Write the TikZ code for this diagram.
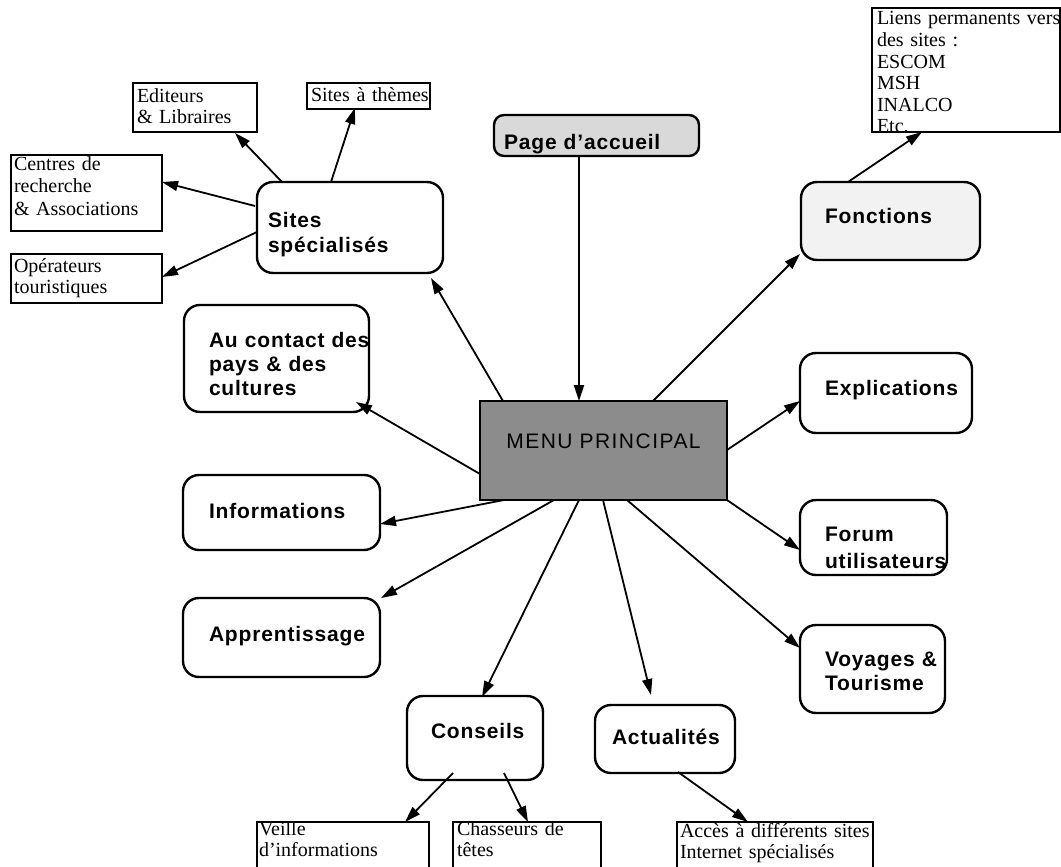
\documentclass[tikz,border=0pt]{standalone}
\usepackage{fontspec}
\setmainfont{Liberation Serif}
\newfontfamily\boxfont{Liberation Sans}[LetterSpace=4]
\newfontfamily\menufont{Liberation Sans}[LetterSpace=7]
\usetikzlibrary{calc,arrows.meta}
\hyphenpenalty=10000
\exhyphenpenalty=10000

\begin{document}
\begin{tikzpicture}[x=0.5pt,y=-0.5pt]
\tikzstyle{rbox}=[draw,line width=1.2pt,rounded corners=8pt,anchor=north west,inner ysep=0pt,outer sep=0pt,align=left,font=\boxfont\bfseries\fontsize{10.5pt}{12pt}\selectfont]
\tikzstyle{sbox}=[draw,line width=1pt,anchor=north west,inner ysep=0pt,outer sep=0pt,align=left,font=\fontsize{10pt}{10.8pt}\selectfont]
\tikzstyle{arr}=[line width=0.9pt,-{Triangle[length=8pt,width=5pt]}]

	\useasboundingbox (0,0) rectangle (1061,867);

	% menu et page d'accueil
	\node (menu) [draw,line width=0.8pt,fill=black!45,anchor=north west,inner sep=0pt,outer sep=0pt,align=center,text width=123.5pt,text height=23.5pt,text depth=26pt,font=\menufont\fontsize{10.5pt}{12pt}\selectfont] at (480,401) {MENU PRINCIPAL};
	\node (acc) [rbox,rounded corners=5pt,fill=black!15,inner xsep=5pt,text width=92.5pt,text height=17pt,text depth=3.5pt] at (494,115) {Page d’accueil};

	% rubriques
	\node (sites) [rbox,inner xsep=5.5pt,text width=82pt,text height=22.5pt,text depth=23pt] at (257,182) {Sites\\[0.5pt]spécialisés};
	\node (fonctions) [rbox,fill=black!5,inner xsep=12pt,text width=65.5pt,text height=20.5pt,text depth=18.5pt] at (801,182) {Fonctions};
	\node (contact) [rbox,inner xsep=12.5pt,text width=67.5pt,text height=21pt,text depth=32.5pt] at (184,305) {\mbox{Au contact des}\\\mbox{pays \& des}\\cultures};
	\node (expl) [rbox,inner xsep=12.5pt,text width=61pt,text height=21pt,text depth=19pt] at (800,353) {Explications};
	\node (info) [rbox,inner xsep=13pt,text width=72.5pt,text height=21.5pt,text depth=16pt] at (183,475) {Informations};
	\node (forum) [rbox,inner xsep=12.5pt,text width=48.5pt,text height=20.5pt,text depth=17pt] at (800,500) {Forum\\[1.5pt]utilisateurs};
	\node (appr) [rbox,inner xsep=13pt,text width=72.5pt,text height=21.5pt,text depth=18pt] at (183,598) {Apprentissage};
	\node (voyages) [rbox,inner xsep=12.5pt,text width=47.5pt,text height=20.5pt,text depth=23.5pt] at (800,625) {\mbox{Voyages \&}\\Tourisme};
	\node (conseils) [rbox,inner xsep=12pt,text width=44pt,text height=21pt,text depth=21pt] at (407,696) {Conseils};
	\node (actu) [rbox,inner xsep=8.5pt,text width=53pt,text height=19.5pt,text depth=14.5pt] at (595,705) {Actualités};

	% sous-rubriques
	\node (editeurs) [sbox,inner xsep=2pt,text width=58pt,text height=9.5pt,text depth=15pt] at (133,83) {Editeurs\\\& Libraires};
	\node (themes) [sbox,inner xsep=2pt,text width=57.5pt,text height=9pt,text depth=4pt] at (307,83) {\mbox{Sites à thèmes}};
	\node (centres) [sbox,inner xsep=1.5pt,text width=72.5pt,text height=7.5pt,text depth=30.5pt] at (11,155) {Centres de\\[0.5pt]recherche\\[0.5pt]\mbox{\& Associations}};
	\node (operateurs) [sbox,inner xsep=1.5pt,text width=72.5pt,text height=9pt,text depth=15.5pt] at (11,254) {Opérateurs\\touristiques};
	\begin{scope}
		\clip (860,0) rectangle (1061,133);
		\node (liens) [sbox,inner xsep=2.5pt,text width=89pt,text height=8.5pt,text depth=53.5pt] at (872,8) {\mbox{Liens permanents vers}\\des sites :\\ESCOM\\MSH\\INALCO\\Etc.};
	\end{scope}
	\node (veille) [sbox,inner xsep=1pt,text width=84pt,text height=6.5pt,text depth=22.5pt] at (257,822) {Veille\\d’informations};
	\node (chasseurs) [sbox,inner xsep=2pt,text width=70pt,text height=6.5pt,text depth=22.5pt] at (453,822) {Chasseurs de\\têtes};
	\node (acces) [sbox,inner xsep=1.5pt,text width=95pt,text height=7.5pt,text depth=21.5pt] at (677,822) {\mbox{Accès à différents sites}\\Internet spécialisés};

	% liaisons
	\draw[arr] ($(acc.north west)+(85,41)$) -- ($(menu.north west)+(99,0)$);
	\draw[arr] ($(menu.north west)+(23,0)$) -- ($(sites.north west)+(174,96)$);
	\draw[arr] ($(menu.north west)+(173,0)$) -- ($(fonctions.north west)+(-1,72)$);
	\draw[arr] ($(menu.north west)+(0,73)$) -- ($(contact.north west)+(172,97)$);
	\draw[arr] ($(menu.north west)+(24,99)$) -- ($(info.north west)+(197,49)$);
	\draw[arr] ($(menu.north west)+(74,99)$) -- ($(appr.north west)+(198,0)$);
	\draw[arr] ($(menu.north west)+(99,99)$) -- ($(conseils.north west)+(75,1)$);
	\draw[arr] ($(menu.north west)+(123,99)$) -- ($(actu.north west)+(56,-10)$);
	\draw[arr] ($(menu.north west)+(147,99)$) -- ($(voyages.north west)+(0,23)$);
	\draw[arr] ($(menu.north west)+(247,49)$) -- ($(expl.north west)+(0,48)$);
	\draw[arr] ($(menu.north west)+(247,99)$) -- ($(forum.north west)+(0,50)$);

	\draw[arr] ($(sites.north west)+(25,0)$) -- ($(editeurs.north west)+(102,50)$);
	\draw[arr] ($(sites.north west)+(74,0)$) -- ($(themes.north west)+(48,25)$);
	\draw[arr] ($(sites.north west)+(-2,24)$) -- ($(centres.north west)+(151,27)$);
	\draw[arr] ($(sites.north west)+(0,50)$) -- ($(operateurs.north west)+(151,23)$);
	\draw[arr] ($(fonctions.north west)+(47,0)$) -- ($(liens.north west)+(50,124)$);
	\draw[arr] ($(conseils.north west)+(46,77)$) -- ($(veille.north west)+(148,0)$);
	\draw[arr] ($(conseils.north west)+(97,77)$) -- ($(chasseurs.north west)+(75,0)$);
	\draw[arr] ($(actu.north west)+(83,67)$) -- ($(acces.north west)+(71,0)$);

\end{tikzpicture}
\end{document}
